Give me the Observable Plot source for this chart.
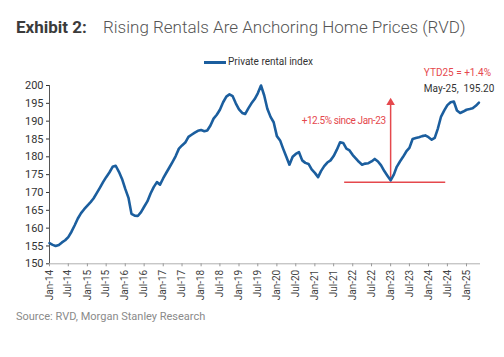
<!DOCTYPE html>
<html><head><meta charset="utf-8">
<script src="https://cdn.jsdelivr.net/npm/d3@7"></script>
<script src="https://cdn.jsdelivr.net/npm/@observablehq/plot@0.6"></script>
<style>
body{margin:0;background:#fff;font-family:Roboto,sans-serif;}
#wrap{position:relative;width:504px;height:357px;overflow:hidden;background:#fff;}
.t1{position:absolute;left:16px;top:17px;font-size:17px;line-height:20px;font-weight:700;color:#3b3b3b;white-space:nowrap;}
.t2{position:absolute;left:103px;top:17px;font-size:17px;line-height:20px;font-weight:300;color:#555;white-space:nowrap;}
.leg{position:absolute;left:228px;top:55.6px;font-size:10px;line-height:12px;color:#333;white-space:nowrap;z-index:2;}
.legline{position:absolute;left:204px;top:61px;width:22px;height:3px;background:#1b5e9e;z-index:2;}
.src{position:absolute;left:16px;top:310px;font-size:11px;line-height:13px;color:#8a8a8a;white-space:nowrap;}
#chart{position:absolute;left:0;top:50px;z-index:1;}
#chart text.ann{letter-spacing:-0.3px;}
</style></head>
<body><div id="wrap">
<div class="t1">Exhibit 2:</div>
<div class="t2">Rising Rentals Are Anchoring Home Prices (RVD)</div>
<div id="chart"></div>
<div class="legline"></div><div class="leg">Private rental index</div>
<div class="src">Source: RVD, Morgan Stanley Research</div>
</div>
<script>
// Private rental index, monthly from Jan-14 to May-25
const rental = [
  155.8,155.3,155.0,155.3,156.0,156.6,157.5,159.0,160.8,162.7,164.2,165.3,
  166.3,167.3,168.3,169.8,171.3,172.9,174.3,175.6,177.2,177.5,175.8,173.8,
  171.0,168.5,164.0,163.5,163.4,164.5,166.0,167.5,169.7,171.5,172.9,172.2,
  174.0,175.6,177.0,178.6,180.2,182.3,183.2,184.0,185.6,186.2,186.8,187.3,
  187.5,187.2,187.4,188.8,190.7,191.8,193.2,195.3,196.9,197.5,197.0,195.0,
  193.3,192.3,192.0,193.6,195.0,196.2,197.8,200.0,197.2,193.5,191.2,189.7,
  185.8,184.6,182.3,180.0,177.8,180.0,180.8,181.3,179.0,178.3,178.0,176.5,
  175.5,174.3,176.0,177.4,178.4,179.0,180.2,182.0,184.1,183.9,182.3,181.8,
  180.5,179.5,178.6,177.8,178.1,178.2,178.7,179.4,178.7,177.6,176.0,174.7,
  173.4,175.0,177.2,178.7,180.0,181.5,182.5,185.0,185.3,185.5,185.8,186.0,
  185.5,184.8,185.3,188.0,191.3,193.0,194.5,195.3,195.5,193.0,192.3,192.7,
  193.2,193.4,193.6,194.3,195.2
];
const yTicks = [150,155,160,165,170,175,180,185,190,195,200];
const xTickDates = d3.timeMonth.every(6).range(new Date(2014,0,1), new Date(2025,0,2));
const xDomain = [new Date(2014,0,1), new Date(2025,4,16)];

// annotations
const arrowDate = new Date(2023,0,1);
const arrowLow = 173.4, arrowHigh = 195.2;
const baseLevel = 172.9;
const baseStart = new Date(2021,9,15), baseEnd = new Date(2024,5,15);
const sinceLabel = "+12.5% since Jan-23", sinceLevel = 190.0;
const noteDate = new Date(2023,10,17);
const ytdLabel = "YTD25 = +1.4%", ytdLevel = 203.6;
const lastLabel = "May-25,  195.20", lastLevel = 199.2;

const data = rental.map((v,i)=>({date:new Date(2014,i,1), value:v}));
const red = "#e5484d";

const chart = Plot.plot({
  width:504, height:260,
  marginTop:35, marginBottom:46.7, marginLeft:49, marginRight:24,
  style:{fontFamily:"Roboto, sans-serif", background:"transparent"},
  x:{type:"time", domain:xDomain},
  y:{domain:[150,200]},
  marks:[
    Plot.ruleY([150], {stroke:"#b0b0b0", strokeWidth:1}),
    Plot.ruleX([xDomain[0]], {y1:150, y2:200, stroke:"#555", strokeWidth:1}),
    Plot.axisY({ticks:yTicks, tickSize:3, tickPadding:3, fontSize:11, color:"#333", label:null}),
    Plot.axisX({ticks:xTickDates, tickFormat:d3.timeFormat("%b-%y"), tickRotate:-90, tickSize:3, tickPadding:3, fontSize:10, color:"#444", stroke:"#999", label:null}),
    Plot.ruleY([baseLevel], {x1:baseStart, x2:baseEnd, stroke:red, strokeWidth:1.5}),
    Plot.link([0], {x1:()=>arrowDate, x2:()=>arrowDate, y1:()=>arrowLow, y2:()=>arrowHigh, stroke:red, strokeWidth:1.5}),
    Plot.dot([0], {x:()=>arrowDate, y:()=>arrowHigh, symbol:"triangle", r:3.2, fill:red}),
    Plot.lineY(data, {x:"date", y:"value", stroke:"#1b5e9e", strokeWidth:2.6}),
    Plot.text([sinceLabel], {x:()=>arrowDate, y:()=>sinceLevel, text:d=>d, textAnchor:"end", dx:-5, fontSize:10, fill:red, className:"ann"}),
    Plot.text([ytdLabel], {x:()=>noteDate, y:()=>ytdLevel, text:d=>d, textAnchor:"start", fontSize:10, fill:red}),
    Plot.text([lastLabel], {x:()=>noteDate, y:()=>lastLevel, text:d=>d, textAnchor:"start", fontSize:10, fill:"#333"})
  ]
});
chart.querySelectorAll("text").forEach(t=>{ if (t.textContent===sinceLabel) t.setAttribute("letter-spacing","-0.4"); });
document.getElementById("chart").appendChild(chart);
</script>
</body></html>
